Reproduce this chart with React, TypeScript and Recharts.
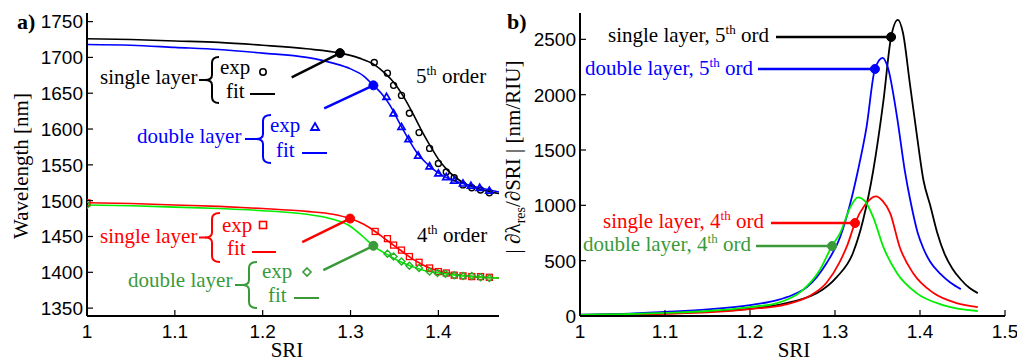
import React from "react";
import { ComposedChart, Line, XAxis, YAxis, ReferenceLine, ReferenceDot } from "recharts";

// ---- panel a) resonance wavelength [nm] vs SRI ----
const singleFit5 = [
  [1.0, 1726], [1.05, 1725], [1.1, 1723], [1.15, 1721], [1.2, 1717], [1.25, 1712], [1.288, 1706],
  [1.31, 1699], [1.327, 1690], [1.34, 1677], [1.35, 1664], [1.36, 1646], [1.37, 1624], [1.38, 1600],
  [1.39, 1578], [1.4, 1558], [1.41, 1543], [1.42, 1532], [1.43, 1524], [1.44, 1519], [1.45, 1515], [1.469, 1510],
];
const singleExp5 = [
  [1.327, 1693], [1.342, 1678], [1.349, 1661], [1.358, 1647], [1.367, 1622], [1.378, 1595], [1.39, 1573],
  [1.4, 1552], [1.409, 1540], [1.418, 1532], [1.428, 1522], [1.438, 1518], [1.448, 1515], [1.458, 1511],
];
const doubleFit5 = [
  [1.0, 1718], [1.05, 1717], [1.1, 1714], [1.15, 1711], [1.2, 1706], [1.25, 1700], [1.28, 1692],
  [1.3, 1684], [1.315, 1674], [1.326, 1661], [1.335, 1650], [1.345, 1633], [1.355, 1610], [1.365, 1588],
  [1.375, 1568], [1.385, 1554], [1.395, 1543], [1.405, 1535], [1.42, 1527], [1.44, 1520], [1.469, 1512],
];
const doubleExp5 = [
  [1.341, 1645], [1.349, 1622], [1.358, 1603], [1.366, 1586], [1.377, 1563], [1.39, 1548], [1.4, 1538],
  [1.409, 1533], [1.418, 1528], [1.428, 1524], [1.437, 1521], [1.447, 1518], [1.458, 1514],
];
const singleFit4 = [
  [1.0, 1497], [1.05, 1496], [1.1, 1494], [1.15, 1492], [1.2, 1489], [1.25, 1485], [1.28, 1481],
  [1.2995, 1475], [1.315, 1467], [1.328, 1457], [1.34, 1446], [1.35, 1437], [1.36, 1428], [1.37, 1419],
  [1.38, 1412], [1.39, 1406], [1.4, 1402], [1.41, 1399], [1.42, 1397], [1.44, 1394], [1.469, 1392],
];
const singleExp4 = [
  [1.0, 1497], [1.328, 1457], [1.342, 1447], [1.349, 1438], [1.358, 1431], [1.367, 1422], [1.378, 1414],
  [1.39, 1406], [1.4, 1401], [1.409, 1399], [1.418, 1396], [1.428, 1395], [1.438, 1394], [1.448, 1394], [1.458, 1393],
];
const doubleFit4 = [
  [1.0, 1494], [1.05, 1493], [1.1, 1491], [1.15, 1489], [1.2, 1486], [1.25, 1481], [1.28, 1474],
  [1.3, 1464], [1.314, 1450], [1.326, 1437], [1.34, 1426], [1.35, 1419], [1.36, 1413], [1.37, 1408],
  [1.38, 1404], [1.39, 1401], [1.4, 1399], [1.42, 1396], [1.44, 1394], [1.469, 1392],
];
const doubleExp4 = [
  [1.0, 1494], [1.342, 1426], [1.349, 1422], [1.358, 1415], [1.367, 1409], [1.378, 1406], [1.39, 1401],
  [1.399, 1399], [1.408, 1398], [1.418, 1396], [1.428, 1395], [1.438, 1395], [1.448, 1393], [1.458, 1392],
];

// ---- panel b) sensitivity |dλ/dSRI| [nm/RIU] ----
const sensSingle5 = [
  [1.0, 10], [1.05, 15], [1.1, 25], [1.15, 40], [1.2, 65], [1.239, 110], [1.26, 150], [1.279, 207],
  [1.302, 351], [1.321, 567], [1.333, 865], [1.345, 1315], [1.357, 1946], [1.366, 2521], [1.374, 2676],
  [1.38, 2557], [1.388, 2105], [1.396, 1653], [1.404, 1229], [1.412, 1000], [1.42, 760], [1.429, 560],
  [1.438, 430], [1.448, 330], [1.458, 255], [1.468, 207],
];
const sensDouble5 = [
  [1.0, 12], [1.05, 20], [1.1, 38], [1.15, 60], [1.2, 99], [1.232, 144], [1.25, 190], [1.267, 261],
  [1.29, 477], [1.306, 712], [1.318, 1018], [1.327, 1315], [1.337, 1703], [1.347, 2232], [1.356, 2333],
  [1.362, 2250], [1.373, 1798], [1.382, 1319], [1.389, 1030], [1.397, 760], [1.404, 610], [1.412, 490],
  [1.424, 380], [1.436, 300], [1.448, 243],
];
const sensSingle4 = [
  [1.0, 8], [1.05, 12], [1.1, 20], [1.15, 32], [1.2, 63], [1.24, 100], [1.27, 180], [1.29, 300],
  [1.305, 480], [1.315, 650], [1.3235, 840], [1.335, 1000], [1.348, 1081], [1.356, 1040], [1.365, 928],
  [1.376, 626], [1.392, 386], [1.416, 207], [1.443, 117], [1.468, 81],
];
const sensDouble4 = [
  [1.0, 10], [1.05, 16], [1.1, 28], [1.15, 45], [1.2, 81], [1.232, 117], [1.262, 234], [1.282, 414],
  [1.2965, 632], [1.306, 748], [1.318, 982], [1.327, 1072], [1.335, 1040], [1.345, 892], [1.357, 622],
  [1.373, 387], [1.396, 207], [1.427, 99], [1.468, 45],
];

const xTicksA = [1, 1.1, 1.2, 1.3, 1.4];
const yTicksA = [1350, 1400, 1450, 1500, 1550, 1600, 1650, 1700, 1750];
const xTicksB = [1, 1.1, 1.2, 1.3, 1.4, 1.5];
const yTicksB = [0, 500, 1000, 1500, 2000, 2500];

const BLUE = "#0000ff";
const RED = "#ff0000";
const LIME = "#00ee00";
const GREEN = "#3a9a3a";
const SANS = "'Liberation Sans', Arial, sans-serif";
const SERIF = "'Liberation Serif', 'Times New Roman', serif";

const toXY = (arr: number[][]) => arr.map(([x, y]) => ({ x, y }));

// inward tick marks, MATLAB style
const BottomTick = (p: any) => (
  <g>
    <line x1={p.x} x2={p.x} y1={p.y - 9} y2={p.y - 15} stroke="#000" strokeWidth={1.2} />
    <text x={p.x} y={p.y} dy="0.71em" textAnchor="middle" style={{ fontFamily: SANS }} fontSize={19} fill="#000">
      {p.payload.value}
    </text>
  </g>
);
const LeftTick = (p: any) => (
  <g>
    <line x1={p.x + 4} x2={p.x + 10} y1={p.y} y2={p.y} stroke="#000" strokeWidth={1.2} />
    <text x={p.x} y={p.y} dy="0.36em" textAnchor="end" style={{ fontFamily: SANS }} fontSize={19} fill="#000">
      {p.payload.value}
    </text>
  </g>
);
const TopTick = (p: any) => <line x1={p.x} x2={p.x} y1={p.y} y2={p.y + 6} stroke="#000" strokeWidth={1.2} />;
const RightTick = (p: any) => <line x1={p.x} x2={p.x - 6} y1={p.y} y2={p.y} stroke="#000" strokeWidth={1.2} />;

const axisLine = { stroke: "#000", strokeWidth: 2 };

function Frame({ xDomain, yDomain, xTicks, yTicks, yWidth }: any) {
  return [
    <XAxis key="xb" dataKey="x" type="number" domain={xDomain} ticks={xTicks} allowDataOverflow interval={0}
      height={46} tickSize={0} tickMargin={9} tickLine={false} axisLine={axisLine} tick={BottomTick} />,
    <XAxis key="xt" xAxisId="top" orientation="top" dataKey="x" type="number" domain={xDomain} ticks={xTicks}
      allowDataOverflow interval={0} height={0} tickSize={0} tickMargin={0} tickLine={false} axisLine={axisLine} tick={TopTick} />,
    <YAxis key="yl" type="number" domain={yDomain} ticks={yTicks} allowDataOverflow interval={0}
      width={yWidth} tickSize={0} tickMargin={4} tickLine={false} axisLine={axisLine} tick={LeftTick} />,
    <YAxis key="yr" yAxisId="right" orientation="right" type="number" domain={yDomain} ticks={yTicks}
      allowDataOverflow interval={0} width={0} tickSize={0} tickMargin={0} tickLine={false} axisLine={axisLine} tick={RightTick} />,
  ];
}

const circleDot = (p: any) => <circle key={p.index} cx={p.cx} cy={p.cy} r={3} fill="none" stroke="#000" strokeWidth={1.4} />;
const triDot = (p: any) => (
  <path key={p.index} d={`M${p.cx},${p.cy - 3.5} L${p.cx + 3.5},${p.cy + 2.5} L${p.cx - 3.5},${p.cy + 2.5} Z`}
    fill="none" stroke={BLUE} strokeWidth={1.7} />
);
const squareDot = (p: any) => <rect key={p.index} x={p.cx - 3} y={p.cy - 3} width={6} height={6} fill="none" stroke={RED} strokeWidth={1.3} />;
const diamondDot = (p: any) => (
  <path key={p.index} d={`M${p.cx},${p.cy - 3.5} L${p.cx + 3.5},${p.cy} L${p.cx},${p.cy + 3.5} L${p.cx - 3.5},${p.cy} Z`}
    fill="none" stroke="#22b022" strokeWidth={1.4} />
);

const pointersA = [
  { from: [1.233, 1672], to: [1.288, 1706], color: "#000" },
  { from: [1.27, 1629], to: [1.326, 1661], color: BLUE },
  { from: [1.245, 1442], to: [1.2995, 1475], color: RED },
  { from: [1.269, 1403], to: [1.326, 1437], color: GREEN },
];
const pointersB = [
  { from: [1.2306, 2521], to: [1.366, 2521], color: "#000" },
  { from: [1.2094, 2232], to: [1.347, 2232], color: BLUE },
  { from: [1.2247, 840], to: [1.3235, 840], color: RED },
  { from: [1.2071, 632], to: [1.2965, 632], color: GREEN },
];

function pointerEls(list: any[]) {
  return list.flatMap((p, i) => [
    <ReferenceLine key={"l" + i} segment={[{ x: p.from[0], y: p.from[1] }, { x: p.to[0], y: p.to[1] }]}
      stroke={p.color} strokeWidth={2.5} ifOverflow="visible" />,
    <ReferenceDot key={"d" + i} x={p.to[0]} y={p.to[1]} r={4.5} fill={p.color} stroke={p.color} ifOverflow="visible" />,
  ]);
}

function bracePath(tip: number, stem: number, end: number, top: number, bot: number) {
  const mid = (top + bot) / 2;
  return `M${end},${top} Q${stem},${top} ${stem},${top + 6} L${stem},${mid - 5} Q${stem},${mid} ${tip},${mid} ` +
    `Q${stem},${mid} ${stem},${mid + 5} L${stem},${bot - 6} Q${stem},${bot} ${end},${bot}`;
}

const legendGroups = [
  { label: "single layer", lx: 100, ly: 84, dash: [199, 206], tip: 205, stem: 212, end: 219, top: 57, bot: 103,
    ex: 220, ey: 74, fx: 226, fy: 98, line: [250, 275, 94], mark: "circle", mx: 263, my: 72, color: "#000" },
  { label: "double layer", lx: 137, ly: 143, dash: [245, 257], tip: 256, stem: 263, end: 271, top: 115, bot: 163,
    ex: 270, ey: 132, fx: 276, fy: 157, line: [302, 327, 153], mark: "tri", mx: 315, my: 127, color: BLUE },
  { label: "single layer", lx: 100, ly: 243, dash: [199, 206], tip: 205, stem: 212, end: 220, top: 213, bot: 262,
    ex: 222, ey: 232, fx: 227, fy: 255, line: [252, 276, 252], mark: "square", mx: 263, my: 225, color: RED },
  { label: "double layer", lx: 128, ly: 287, dash: [235, 243], tip: 242, stem: 249, end: 257, top: 262, bot: 308,
    ex: 262, ey: 278, fx: 268, fy: 302, line: [294, 319, 298], mark: "diamond", mx: 307, my: 272, color: GREEN },
];

function Marker({ kind, x, y, color }: any) {
  if (kind === "circle") return <circle cx={x} cy={y} r={3.2} fill="none" stroke={color} strokeWidth={1.6} />;
  if (kind === "tri") return <path d={`M${x},${y - 4} L${x + 4},${y + 3} L${x - 4},${y + 3} Z`} fill="none" stroke={color} strokeWidth={1.8} />;
  if (kind === "square") return <rect x={x - 3.5} y={y - 3.5} width={7} height={7} fill="none" stroke={color} strokeWidth={1.6} />;
  return <path d={`M${x},${y - 4} L${x + 4},${y} L${x},${y + 4} L${x - 4},${y} Z`} fill="none" stroke={color} strokeWidth={1.6} />;
}

const serif = { fontFamily: SERIF };

function OrdText({ x, y, pre, n, post, fill }: any) {
  return (
    <text x={x} y={y} style={serif} fontSize={21} fill={fill}>
      {pre}{n}<tspan dy={-8} fontSize={13}>th</tspan><tspan dy={8}>{post}</tspan>
    </text>
  );
}

function Annotations() {
  return (
    <svg width={1017} height={362} style={{ position: "absolute", left: 0, top: 0, pointerEvents: "none" }}>
      <text x={17} y={29} style={serif} fontSize={22} fontWeight="bold">a)</text>
      <text x={507} y={29} style={serif} fontSize={22} fontWeight="bold">b)</text>
      <text transform="translate(28,166) rotate(-90)" textAnchor="middle" style={serif} fontSize={21}>Wavelength [nm]</text>
      <text transform="translate(520,157) rotate(-90)" textAnchor="middle" style={serif} fontSize={21}>
        {"| ∂λ"}<tspan dy={5} fontSize={14}>res</tspan><tspan dy={-5}>{"/∂SRI | [nm/RIU]"}</tspan>
      </text>
      <text x={287} y={357} textAnchor="middle" style={serif} fontSize={21}>SRI</text>
      <text x={794} y={357} textAnchor="middle" style={serif} fontSize={21}>SRI</text>

      {legendGroups.map((g, i) => (
        <g key={i} fill={g.color}>
          <text x={g.lx} y={g.ly} style={serif} fontSize={21}>{g.label}</text>
          <line x1={g.dash[0]} x2={g.dash[1]} y1={(g.top + g.bot) / 2} y2={(g.top + g.bot) / 2} stroke={g.color} strokeWidth={2} />
          <path d={bracePath(g.tip, g.stem, g.end, g.top, g.bot)} fill="none" stroke={g.color} strokeWidth={2} />
          <text x={g.ex} y={g.ey} style={serif} fontSize={21}>exp</text>
          <text x={g.fx} y={g.fy} style={serif} fontSize={21}>fit</text>
          <line x1={g.line[0]} x2={g.line[1]} y1={g.line[2]} y2={g.line[2]} stroke={g.color} strokeWidth={2} />
          <Marker kind={g.mark} x={g.mx} y={g.my} color={g.color} />
        </g>
      ))}
      <OrdText x={416} y={83} pre="" n="5" post=" order" fill="#000" />
      <OrdText x={417} y={242} pre="" n="4" post=" order" fill="#000" />

      <OrdText x={608} y={42} pre="single layer, " n="5" post=" ord" fill="#000" />
      <OrdText x={585} y={75} pre="double layer, " n="5" post=" ord" fill={BLUE} />
      <OrdText x={603} y={228} pre="single layer, " n="4" post=" ord" fill={RED} />
      <OrdText x={583} y={251} pre="double layer, " n="4" post=" ord" fill={GREEN} />
    </svg>
  );
}

export default function App() {
  return (
    <div style={{ position: "absolute", left: 0, top: 0, width: 1017, height: 362, background: "#fff" }}>
      <div style={{ position: "absolute", left: 0, top: 0 }}>
        <ComposedChart width={505} height={362} margin={{ top: 13, right: 6, bottom: 0, left: 0 }}>
          {Frame({ xDomain: [1, 1.469], yDomain: [1339, 1762], xTicks: xTicksA, yTicks: yTicksA, yWidth: 87 })}
          <Line data={toXY(singleFit5)} dataKey="y" type="monotone" stroke="#000" strokeWidth={1.6} dot={false} isAnimationActive={false} />
          <Line data={toXY(doubleFit5)} dataKey="y" type="monotone" stroke={BLUE} strokeWidth={1.6} dot={false} isAnimationActive={false} />
          <Line data={toXY(singleFit4)} dataKey="y" type="monotone" stroke={RED} strokeWidth={1.6} dot={false} isAnimationActive={false} />
          <Line data={toXY(doubleFit4)} dataKey="y" type="monotone" stroke={LIME} strokeWidth={1.6} dot={false} isAnimationActive={false} />
          <Line data={toXY(singleExp5)} dataKey="y" stroke="none" dot={circleDot} isAnimationActive={false} />
          <Line data={toXY(doubleExp5)} dataKey="y" stroke="none" dot={triDot} isAnimationActive={false} />
          <Line data={toXY(singleExp4)} dataKey="y" stroke="none" dot={squareDot} isAnimationActive={false} />
          <Line data={toXY(doubleExp4)} dataKey="y" stroke="none" dot={diamondDot} isAnimationActive={false} />
          {pointerEls(pointersA)}
        </ComposedChart>
      </div>
      <div style={{ position: "absolute", left: 500, top: 0 }}>
        <ComposedChart width={517} height={362} margin={{ top: 13, right: 12, bottom: 0, left: 0 }}>
          {Frame({ xDomain: [1, 1.5], yDomain: [0, 2738], xTicks: xTicksB, yTicks: yTicksB, yWidth: 80 })}
          <Line data={toXY(sensSingle5)} dataKey="y" type="monotone" stroke="#000" strokeWidth={1.8} dot={false} isAnimationActive={false} />
          <Line data={toXY(sensDouble5)} dataKey="y" type="monotone" stroke={BLUE} strokeWidth={1.8} dot={false} isAnimationActive={false} />
          <Line data={toXY(sensSingle4)} dataKey="y" type="monotone" stroke={RED} strokeWidth={1.8} dot={false} isAnimationActive={false} />
          <Line data={toXY(sensDouble4)} dataKey="y" type="monotone" stroke={LIME} strokeWidth={1.8} dot={false} isAnimationActive={false} />
          {pointerEls(pointersB)}
        </ComposedChart>
      </div>
      <Annotations />
    </div>
  );
}
